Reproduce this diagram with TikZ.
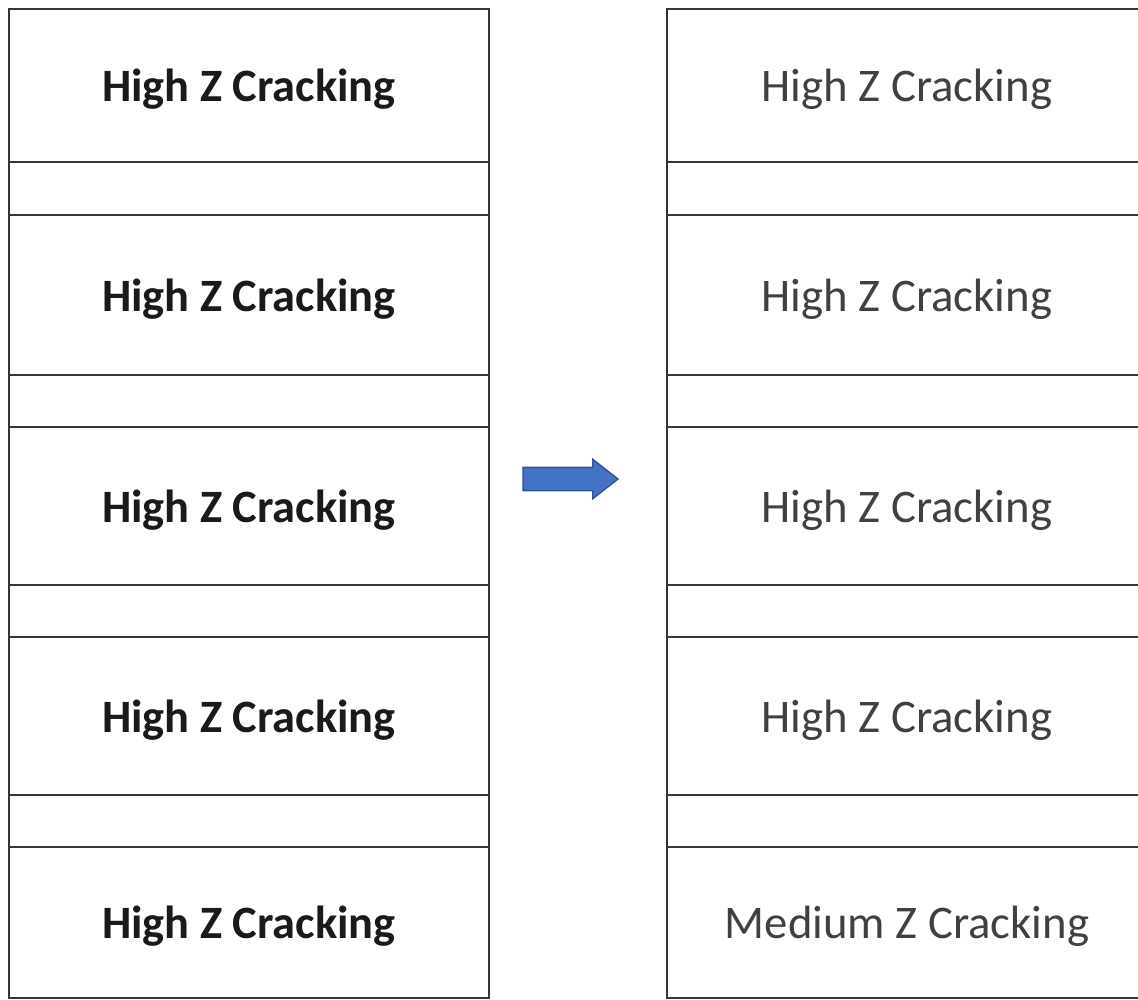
\documentclass[tikz,border=0pt]{standalone}
\usepackage{fontspec}
\setmainfont{Carlito}
\usepackage{tikz}
\usetikzlibrary{shapes.arrows,positioning}
\definecolor{rowline}{HTML}{363636}
\definecolor{oldtext}{HTML}{1A1A1A}
\definecolor{newtext}{HTML}{404040}
\definecolor{arrowblue}{HTML}{4472C4}
\definecolor{arrowedge}{HTML}{2F5597}

\begin{document}
\begin{tikzpicture} [
    x = 0.1mm, y = -0.1mm,
    node distance = 0pt,
    every node/.style = {draw = rowline, line width = 0.7pt, rectangle, inner sep = 0, outer sep = 0, minimum width = 48mm},
    oldzone/.style = {text = oldtext, text depth = 0pt, font = \fontsize{13.2}{15}\selectfont\bfseries},
    newzone/.style = {text = newtext, text depth = 0pt, font = \fontsize{13.3}{15}\selectfont},
    spacer/.style = {minimum height = 5.2mm}
    ]

    \useasboundingbox (0,0) rectangle (1138,1000);
    \clip (0,0) rectangle (1138,1000);

    % before
    \node [oldzone, minimum height = 15.3mm] (l1) at (249,85.5) {High Z Cracking};
    \node [spacer, minimum height = 5.3mm, below = of l1] (lg1) {};
    \node [oldzone, minimum height = 16mm, below = of lg1] (l2) {High Z Cracking};
    \node [spacer, below = of l2] (lg2) {};
    \node [oldzone, minimum height = 15.8mm, below = of lg2] (l3) {High Z Cracking};
    \node [spacer, below = of l3] (lg3) {};
    \node [oldzone, minimum height = 15.8mm, below = of lg3] (l4) {High Z Cracking};
    \node [spacer, below = of l4] (lg4) {};
    \node [oldzone, minimum height = 15.1mm, below = of lg4] (l5) {High Z Cracking};

    % after
    \node [newzone, minimum height = 15.3mm] (r1) at (907,85.5) {High Z Cracking};
    \node [spacer, minimum height = 5.3mm, below = of r1] (rg1) {};
    \node [newzone, minimum height = 16mm, below = of rg1] (r2) {High Z Cracking};
    \node [spacer, below = of r2] (rg2) {};
    \node [newzone, minimum height = 15.8mm, below = of rg2] (r3) {High Z Cracking};
    \node [spacer, below = of r3] (rg3) {};
    \node [newzone, minimum height = 15.8mm, below = of rg3] (r4) {High Z Cracking};
    \node [spacer, below = of r4] (rg4) {};
    \node [newzone, minimum height = 15.1mm, below = of rg4] (r5) {Medium Z Cracking};

    \node [single arrow, draw = arrowedge, fill = arrowblue, line width = 0.4pt,
           minimum width = 0pt, inner ysep = 1.1mm, minimum height = 9.5mm,
           single arrow head extend = 0.8mm, single arrow tip angle = 76] (go) at (563,479) {};
  \end{tikzpicture}
\end{document}
